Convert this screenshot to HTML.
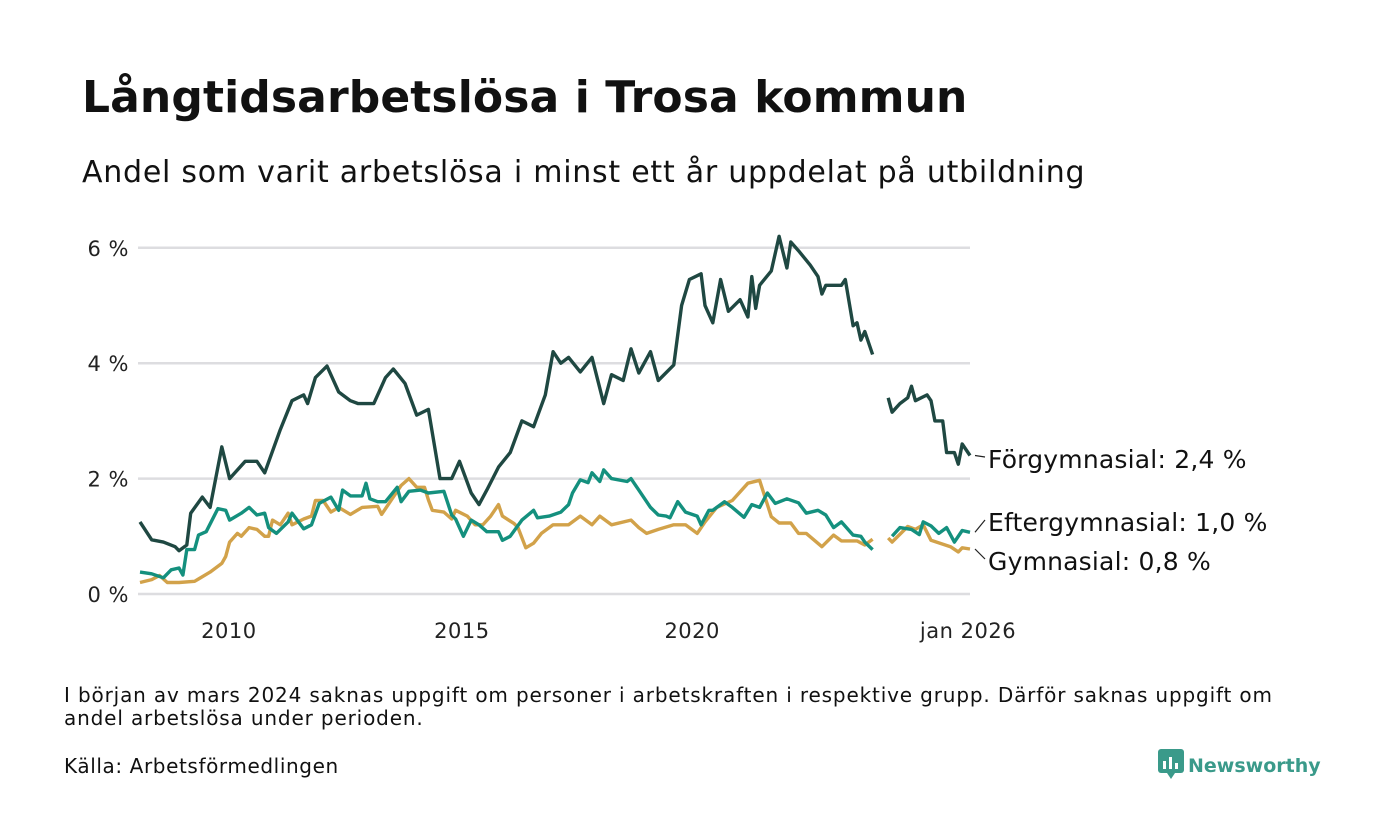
<!DOCTYPE html>
<html><head><meta charset="utf-8">
<style>
html,body{margin:0;padding:0;background:#fff;}
body{width:1400px;height:840px;position:relative;overflow:hidden;font-family:"Liberation Sans","DejaVu Sans",sans-serif;color:#111;}
.t{position:absolute;white-space:nowrap;}
</style></head><body>
<div class="t" style="left:82px;top:72px;font-size:44px;font-weight:bold;font-family:'DejaVu Sans',sans-serif;letter-spacing:0.1px;">Långtidsarbetslösa i Trosa kommun</div>
<div class="t" style="left:82px;top:155px;font-size:30px;font-family:'DejaVu Sans',sans-serif;letter-spacing:0.75px;">Andel som varit arbetslösa i minst ett år uppdelat på utbildning</div>
<svg id="chart" width="1400" height="660" style="position:absolute;left:0;top:0;" font-family="DejaVu Sans, sans-serif"></svg>
<div class="t" style="left:64px;top:684px;font-size:20px;line-height:23px;font-family:'DejaVu Sans',sans-serif;white-space:normal;width:1250px;letter-spacing:0.85px;">I början av mars 2024 saknas uppgift om personer i arbetskraften i respektive grupp. Därför saknas uppgift om andel arbetslösa under perioden.</div>
<div class="t" style="left:64px;top:754px;font-size:20px;font-family:'DejaVu Sans',sans-serif;letter-spacing:0.6px;">Källa: Arbetsförmedlingen</div>
<div class="t" style="left:1158px;top:749px;font-size:19px;font-weight:bold;color:#3a9a8a;font-family:'DejaVu Sans',sans-serif;">
<svg width="26" height="30" style="vertical-align:-7px;margin-right:4px" viewBox="0 0 26 30"><rect x="0" y="0" width="26" height="24" rx="3" fill="#3a9a8a"/><polygon points="9,24 17,24 13,30" fill="#3a9a8a"/><rect x="5" y="12" width="3" height="8" fill="#fff"/><rect x="11" y="8" width="3" height="12" fill="#fff"/><rect x="17" y="14" width="3" height="6" fill="#fff"/></svg>Newsworthy</div>
<script>
// month index since Oct 2007
const darkMonths=[0,3,6,9,10,12,13,16,18,21,23,27,30,32,36,39,42,43,45,48,51,54,56,60,63,65,68,71,74,77,80,82,85,87,89,92,95,98,101,104,106,108,110,113,116,119,121,124,126,128,131,133,137,139,141,144,145,147,149,151,154,156,157,158,159,162,164,166,167,169,172,174,175,176,180,181,183,184,185,186,188,190,192,193,195,197,198,199,202,203,204,206,207,209,210,211,213];
const darkValues=[1.25,0.94,0.9,0.82,0.75,0.85,1.4,1.68,1.5,2.55,2.0,2.3,2.3,2.1,2.85,3.35,3.45,3.3,3.75,3.95,3.5,3.35,3.3,3.3,3.75,3.9,3.65,3.1,3.2,2.0,2.0,2.3,1.75,1.55,1.8,2.2,2.45,3.0,2.9,3.45,4.2,4.0,4.1,3.85,4.1,3.3,3.8,3.7,4.25,3.83,4.2,3.7,3.97,5.0,5.45,5.55,5.0,4.7,5.45,4.9,5.1,4.8,5.5,4.95,5.35,5.6,6.2,5.65,6.1,5.95,5.7,5.5,5.2,5.35,5.35,5.45,4.65,4.7,4.4,4.55,4.15,null,3.4,3.15,3.3,3.4,3.6,3.35,3.45,3.35,3.0,3.0,2.45,2.45,2.25,2.6,2.4];
const tealMonths=[0,3,6,8,10,11,12,14,15,17,20,22,23,26,28,30,32,33,35,38,39,42,44,46,49,51,52,54,57,58,59,61,63,66,67,69,72,74,78,80,81,83,85,87,89,92,93,95,98,101,102,105,108,110,111,113,115,116,118,119,121,125,126,128,131,133,135,136,138,140,143,144,146,147,150,152,155,157,159,161,163,166,169,171,174,176,178,180,183,185,186,188,190,193,195,198,200,201,203,205,207,209,211,213];
const tealValues=[0.38,0.35,0.28,0.42,0.45,0.33,0.77,0.77,1.02,1.08,1.48,1.45,1.28,1.4,1.5,1.37,1.4,1.15,1.05,1.25,1.4,1.13,1.2,1.57,1.68,1.45,1.8,1.7,1.7,1.92,1.65,1.6,1.6,1.85,1.6,1.78,1.8,1.75,1.78,1.37,1.3,1.0,1.28,1.2,1.08,1.08,0.93,1.0,1.28,1.45,1.32,1.35,1.42,1.55,1.75,1.98,1.93,2.1,1.95,2.15,2.0,1.95,2.0,1.8,1.5,1.37,1.35,1.32,1.6,1.42,1.35,1.2,1.45,1.45,1.6,1.5,1.33,1.55,1.5,1.75,1.57,1.65,1.58,1.4,1.45,1.37,1.15,1.25,1.02,1.0,0.9,0.77,null,1.0,1.15,1.12,1.03,1.25,1.18,1.05,1.15,0.9,1.1,1.07];
const goldMonths=[0,3,5,7,10,14,15,18,21,22,23,25,26,28,30,32,33,34,36,38,39,42,44,45,47,49,51,54,57,61,62,65,67,69,71,73,74,75,78,80,81,84,86,88,90,92,93,96,97,99,101,103,106,110,113,116,118,121,126,128,130,133,137,140,143,145,148,152,156,159,162,164,167,169,171,175,178,180,184,186,188,190,192,193,197,199,201,203,208,210,211,213];
const goldValues=[0.2,0.25,0.32,0.2,0.2,0.22,0.26,0.38,0.53,0.65,0.9,1.05,1.0,1.15,1.12,1.0,1.0,1.28,1.2,1.4,1.2,1.3,1.35,1.62,1.62,1.42,1.5,1.38,1.5,1.52,1.38,1.68,1.88,2.0,1.85,1.85,1.63,1.45,1.42,1.3,1.45,1.35,1.2,1.2,1.35,1.55,1.35,1.22,1.15,0.8,0.88,1.05,1.2,1.2,1.35,1.2,1.35,1.2,1.28,1.15,1.05,1.12,1.2,1.2,1.05,1.25,1.5,1.62,1.92,1.97,1.34,1.23,1.23,1.05,1.05,0.82,1.02,0.92,0.92,0.85,0.95,null,0.97,0.9,1.17,1.12,1.2,0.93,0.82,0.73,0.8,0.78];
const yTicks=[0,2,4,6];
const yTickLabels=["0 %","2 %","4 %","6 %"];
const xTicks=[22.8,82.6,141.7,213];
const xTickLabels=["2010","2015","2020","jan 2026"];
const seriesNames=["Förgymnasial: 2,4 %","Eftergymnasial: 1,0 %","Gymnasial: 0,8 %"];

const NS="http://www.w3.org/2000/svg";
const svg=document.getElementById('chart');
const X0=140,X1=970,M0=0,M1=213,Y0=594,PX=57.7;
const xs=m=>X0+(m-M0)*(X1-X0)/(M1-M0);
const ys=v=>Y0-v*PX;
function mk(tag,attrs){const e=document.createElementNS(NS,tag);for(const k in attrs)e.setAttribute(k,attrs[k]);svg.appendChild(e);return e;}
yTicks.forEach((v,i)=>{
  const g=mk('line',{x1:138,x2:970,y1:ys(v),y2:ys(v),stroke:'#dddde0','stroke-width':2.5});
  
  
  const t=mk('text',{x:129,y:ys(v)+8,'text-anchor':'end','font-size':21,fill:'#222','letter-spacing':0.5});
  t.textContent=yTickLabels[i];
  
  
});
xTicks.forEach((m,i)=>{
  const t=mk('text',{x:i==3?968:xs(m),y:638,'text-anchor':'middle','font-size':21,fill:'#222','letter-spacing':0.5});
  t.textContent=xTickLabels[i];
  
  
});
function line(months,vals,color,name){
  let d='',pen=false;
  months.forEach((m,i)=>{const v=vals[i];if(v===null){pen=false;return;}d+=(pen?'L':'M')+xs(m).toFixed(1)+','+ys(v).toFixed(1);pen=true;});
  const p=mk('path',{d:d,fill:'none',stroke:color,'stroke-width':3.4,'stroke-linejoin':'round'});
  
  
}
line(goldMonths,goldValues,'#d2a24a','line-gymnasial');
line(tealMonths,tealValues,'#14907e','line-eftergymnasial');
line(darkMonths,darkValues,'#1f4842','line-forgymnasial');
const lastD=darkValues[darkValues.length-1],lastT=tealValues[tealValues.length-1],lastG=goldValues[goldValues.length-1];
const labs=[[ys(lastD),459],[ys(lastT),522],[ys(lastG),561]];
labs.forEach((l,i)=>{
  const ln=mk('line',{x1:975,y1:l[0],x2:985,y2:l[1]-2,stroke:'#222','stroke-width':1.2});
  
  
  const t=mk('text',{x:988,y:l[1]+9,'font-size':25,fill:'#111','letter-spacing':0.2});
  t.textContent=seriesNames[i];
  
  
});
</script>
</body></html>
